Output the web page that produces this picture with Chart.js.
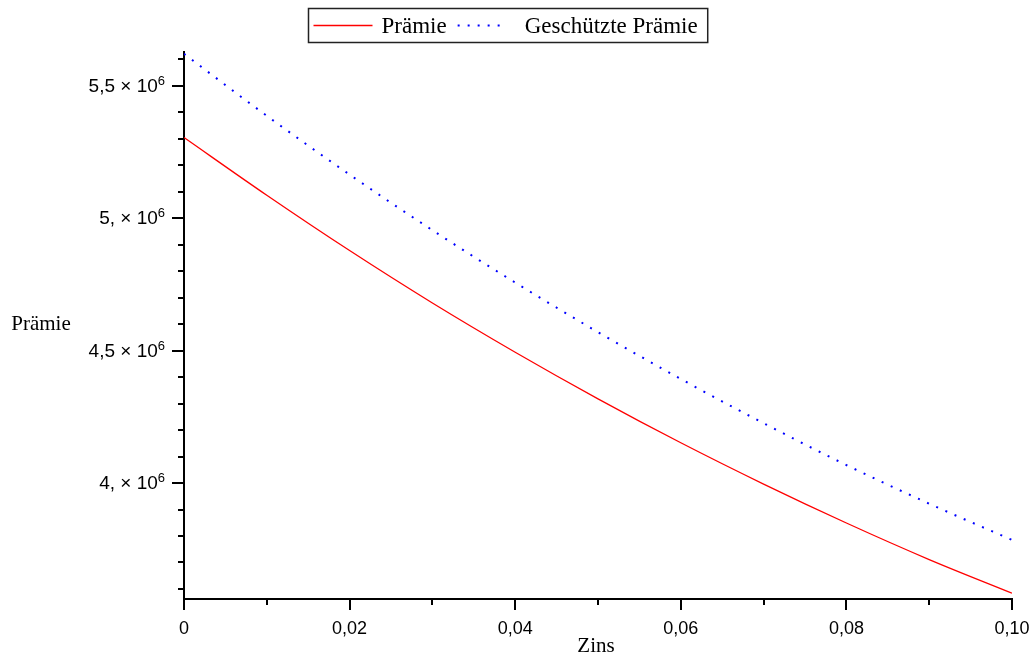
<!DOCTYPE html>
<html lang="de">
<head>
    <meta charset="UTF-8">
    <title>Prämie</title>
    <style>
        html, body { margin: 0; padding: 0; background: #fff; }
        .chart-container {
            position: relative;
            width: 1032px;
            height: 660px;
        }
    </style>
</head>
<body>
    <div class="chart-container">
        <canvas id="praemieChart"></canvas>
    </div>

    <script src="https://cdn.jsdelivr.net/npm/chart.js"></script>
    <script>
        // Werte
        const zinsen = [0, 0.01, 0.02, 0.03, 0.04, 0.05, 0.06, 0.07, 0.08, 0.09, 0.10];
        const praemie = [5305000, 5087000, 4878000, 4680000, 4494000, 4318000, 4152000, 3996000, 3849000, 3711000, 3584000];
        const geschuetztePraemie = [5621000, 5387000, 5165000, 4955000, 4757000, 4570000, 4393000, 4226000, 4068000, 3922000, 3785000];

        const xMajorTicks = [0, 0.02, 0.04, 0.06, 0.08, 0.10];
        const xTickLabels = ['0', '0,02', '0,04', '0,06', '0,08', '0,10'];
        const yMajorTicks = [4000000, 4500000, 5000000, 5500000];
        const yTickLabels = ['4, × 10', '4,5 × 10', '5, × 10', '5,5 × 10'];
        const yTickExponent = '6';

        const serif = '"Liberation Serif", "Times New Roman", serif';
        const sans = '"Liberation Sans", Arial, sans-serif';

        function labelFor(value, majors, labels, eps) {
            const i = majors.findIndex(m => Math.abs(m - value) < eps);
            return i >= 0 ? labels[i] : '';
        }

        // Teilstriche in festen Schritten (Haupt- und Nebenstriche)
        function stepTicks(scale, step) {
            const ticks = [];
            const first = Math.ceil(scale.min / step - 1e-9);
            const last = Math.floor(scale.max / step + 1e-9);
            for (let k = first; k <= last; k++) {
                ticks.push({ value: Math.round(k * step * 1e6) / 1e6 });
            }
            scale.ticks = ticks;
        }

        // Achsenstriche, y-Beschriftung mit Exponent, Achsentitel und Legende im Maple-Stil
        const mapleDecor = {
            id: 'mapleDecor',
            afterDraw(chart) {
                const ctx = chart.ctx;
                const xs = chart.scales.x;
                const ys = chart.scales.y;
                const area = chart.chartArea;
                ctx.save();
                ctx.strokeStyle = '#000';
                ctx.fillStyle = '#000';
                ctx.lineWidth = 2;

                ys.ticks.forEach(t => {
                    const label = labelFor(t.value, yMajorTicks, yTickLabels, 1);
                    const py = Math.round(ys.getPixelForValue(t.value));
                    ctx.beginPath();
                    ctx.moveTo(area.left - (label ? 12 : 6), py);
                    ctx.lineTo(area.left, py);
                    ctx.stroke();
                    if (label) {
                        const right = area.left - 19;
                        ctx.textAlign = 'right';
                        ctx.textBaseline = 'middle';
                        ctx.font = '13px ' + sans;
                        const supW = ctx.measureText(yTickExponent).width;
                        ctx.fillText(yTickExponent, right, py - 5);
                        ctx.font = '19px ' + sans;
                        ctx.fillText(label, right - supW, py + 1);
                    }
                });
                xs.ticks.forEach(t => {
                    const major = labelFor(t.value, xMajorTicks, xTickLabels, 1e-6) !== '';
                    const px = Math.round(xs.getPixelForValue(t.value));
                    ctx.beginPath();
                    ctx.moveTo(px, area.bottom);
                    ctx.lineTo(px, area.bottom + (major ? 11 : 6));
                    ctx.stroke();
                });

                // Achsentitel
                ctx.font = '21px ' + serif;
                ctx.textAlign = 'center';
                ctx.textBaseline = 'middle';
                ctx.fillText('Prämie', 41, 324);
                ctx.fillText('Zins', 596, 646);

                // Legende mit Rahmen
                const ds = chart.data.datasets;
                ctx.font = '23px ' + serif;
                const w1 = ctx.measureText(ds[0].label).width;
                const w2 = ctx.measureText(ds[1].label).width;
                const total = 5 + 59 + 9 + w1 + 11 + 50 + 17 + w2 + 10;
                const left = Math.round(507.5 - total / 2) + 0.5;
                const top = 8.5, bottom = 42.5, cy = 25.5;
                ctx.lineWidth = 1.5;
                ctx.strokeStyle = '#222';
                ctx.strokeRect(left, top, total, bottom - top);

                let x = left + 5;
                ctx.textAlign = 'left';
                ctx.strokeStyle = ds[0].borderColor;
                ctx.lineWidth = ds[0].borderWidth;
                ctx.setLineDash(ds[0].borderDash || []);
                ctx.beginPath(); ctx.moveTo(x, cy); ctx.lineTo(x + 59, cy); ctx.stroke();
                x += 59 + 9;
                ctx.fillText(ds[0].label, x, cy + 1);
                x += w1 + 11;
                ctx.strokeStyle = ds[1].borderColor;
                ctx.lineWidth = ds[1].borderWidth;
                ctx.setLineDash(ds[1].borderDash || []);
                ctx.beginPath(); ctx.moveTo(x, cy); ctx.lineTo(x + 50, cy); ctx.stroke();
                ctx.setLineDash([]);
                x += 50 + 17;
                ctx.fillText(ds[1].label, x, cy + 1);
                ctx.restore();
            }
        };

        new Chart(document.getElementById('praemieChart').getContext('2d'), {
            type: 'line',
            data: {
                datasets: [{
                    label: 'Prämie',
                    data: zinsen.map((z, i) => ({ x: z, y: praemie[i] })),
                    borderColor: '#ff0000',
                    borderWidth: 1.3,
                    pointRadius: 0,
                    cubicInterpolationMode: 'monotone',
                    fill: false
                }, {
                    label: 'Geschützte Prämie',
                    data: zinsen.map((z, i) => ({ x: z, y: geschuetztePraemie[i] })),
                    borderColor: '#0000ff',
                    borderWidth: 2,
                    borderDash: [2, 8],
                    pointRadius: 0,
                    cubicInterpolationMode: 'monotone',
                    fill: false
                }]
            },
            options: {
                responsive: true,
                maintainAspectRatio: false,
                animation: false,
                layout: { padding: { top: 52, right: 20, left: 0, bottom: 0 } },
                plugins: {
                    legend: { display: false },
                    tooltip: { enabled: false }
                },
                scales: {
                    x: {
                        type: 'linear',
                        min: 0,
                        max: 0.1,
                        grid: { display: false, drawTicks: false },
                        border: { display: true, color: '#000', width: 2 },
                        afterBuildTicks: s => stepTicks(s, 0.01),
                        ticks: {
                            autoSkip: false,
                            maxRotation: 0,
                            padding: 19,
                            color: '#000',
                            font: { family: sans, size: 18 },
                            callback: v => labelFor(v, xMajorTicks, xTickLabels, 1e-6)
                        },
                        afterFit: s => { s.height = 61; s.paddingLeft = 0; s.paddingRight = 0; }
                    },
                    y: {
                        type: 'linear',
                        min: 3562000,
                        max: 5628000,
                        grid: { display: false, drawTicks: false },
                        border: { display: true, color: '#000', width: 2 },
                        afterBuildTicks: s => stepTicks(s, 100000),
                        ticks: {
                            autoSkip: false,
                            padding: 19,
                            callback: () => ''
                        },
                        afterFit: s => { s.width = 184; s.paddingTop = 0; s.paddingBottom = 0; }
                    }
                }
            },
            plugins: [mapleDecor]
        });
    </script>
</body>
</html>
